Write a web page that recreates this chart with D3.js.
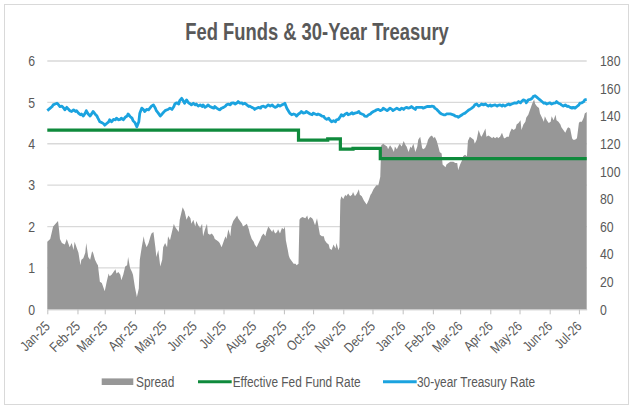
<!DOCTYPE html>
<html>
<head>
<meta charset="utf-8">
<script src="https://cdn.jsdelivr.net/npm/d3@7"></script>
<style>
	body{ margin:0; background:#fff; }
	svg text{ font-family:"Liberation Sans", Arial, sans-serif; fill:#595959; }
</style>
</head>
<body>
<div id="chart"></div>
<script>
// dates are days counted from 1 Jan 2025
const startDate = new Date(2025, 0, 1);
const lastDay = 554;

// spread, bps (right axis)
const spread = [
	[0,49],[3,51],[6,60],[11,64],[12,58],[13,51],[15,48],[18,47],[20,51],[22,47],[23,45],[25,48],[27,43],[28,49],[30,45],
	[32,41],[34,32],[35,36],[37,37],[39,41],[40,48],[42,38],[44,36],[46,42],[47,41],[49,36],[51,33],[52,32],[54,20],[56,19],
	[59,13],[61,20],[63,26],[64,24],[66,25],[68,27],[70,29],[71,26],[73,27],[75,25],[76,21],[78,25],[80,31],[82,32],[83,38],
	[85,30],[87,27],[88,25],[90,16],[92,9],[94,15],[95,36],[97,45],[99,53],[100,49],[102,45],[104,48],[106,53],[107,55],[109,56],
	[111,45],[112,38],[114,43],[116,31],[118,36],[119,45],[121,48],[123,45],[124,53],[126,50],[128,56],[130,62],[131,60],[133,58],
	[135,56],[136,65],[139,74],[141,71],[143,65],[145,68],[147,66],[148,62],[150,65],[152,60],[153,64],[155,61],[157,59],[159,62],
	[160,53],[162,58],[164,62],[165,55],[167,54],[169,55],[171,53],[172,51],[174,50],[176,49],[177,48],[179,45],[181,49],[183,53],
	[184,51],[186,58],[188,53],[189,60],[191,64],[193,66],[195,68],[196,66],[198,64],[200,62],[201,60],[203,61],[205,62],[207,58],
	[208,55],[210,51],[212,49],[213,47],[215,45],[217,48],[219,51],[220,53],[222,55],[224,53],[225,56],[227,60],[229,58],[231,56],
	[232,58],[234,55],[236,56],[237,58],[239,55],[241,59],[243,58],[244,60],[245,50],[247,43],[248,39],[249,37],[251,35],[253,33],
	[255,33],[256,32],[258,33],[259,65],[260,66],[262,67],[265,66],[267,68],[268,65],[270,67],[272,66],[273,65],[275,61],[277,66],
	[278,62],[280,54],[282,53],[284,53],[285,50],[287,48],[289,47],[290,44],[292,43],[294,47],[296,44],[297,48],[299,43],[300,45],
	[301,79],[302,82],[304,80],[306,83],[307,82],[309,84],[311,82],[313,83],[314,85],[316,82],[318,84],[320,87],[321,83],[323,82],
	[325,79],[326,78],[328,76],[330,79],[332,83],[333,84],[335,87],[337,89],[338,90],[340,90],[342,96],[343,119],[345,120],[347,119],
	[349,118],[350,116],[352,119],[354,117],[356,114],[357,118],[359,116],[361,119],[362,120],[364,118],[366,122],[368,119],[369,118],
	[371,114],[373,118],[374,117],[376,120],[378,114],[380,118],[381,123],[383,125],[385,117],[386,116],[388,117],[390,120],[391,123],
	[393,125],[395,126],[397,124],[398,125],[400,122],[402,117],[403,114],[405,113],[406,105],[409,103],[410,105],[412,106],[414,107],
	[417,107],[419,106],[421,106],[422,101],[424,105],[426,108],[427,111],[429,112],[431,111],[432,122],[434,125],[436,124],[438,123],
	[439,120],[441,123],[443,130],[445,126],[446,125],[448,128],[450,131],[451,125],[453,126],[455,125],[457,124],[458,125],[460,124],
	[462,125],[463,124],[465,125],[467,128],[469,124],[470,124],[472,125],[474,125],[475,128],[477,131],[479,130],[481,131],[482,134],
	[484,135],[486,137],[487,130],[489,134],[491,136],[492,139],[494,141],[496,145],[498,149],[500,152],[501,149],[503,147],[505,146],
	[506,142],[508,139],[510,136],[511,140],[513,137],[515,135],[517,136],[518,140],[520,137],[522,141],[523,137],[525,136],[527,134],
	[528,132],[530,130],[532,128],[534,131],[535,132],[537,131],[539,124],[540,123],[542,123],[544,124],[546,135],[547,136],[549,136],
	[551,139],[552,142],[554,143]
];

// effective fed funds rate, % (left axis) - day the level starts
const fedFunds = [[0,4.33],[258,4.09],[288,4.12],[301,3.87],[314,3.89],[342,3.64],[554,3.64]];

// 30-year treasury, % (left axis)
const treasury30 = [
	[0,4.80],[3,4.86],[5,4.90],[6,4.94],[8,4.96],[10,4.98],[11,4.96],[13,4.90],[15,4.91],[17,4.86],[18,4.82],[20,4.88],[22,4.83],
	[23,4.80],[25,4.78],[27,4.82],[29,4.78],[30,4.80],[32,4.74],[34,4.70],[35,4.72],[37,4.67],[39,4.74],[40,4.80],[42,4.72],[44,4.67],
	[46,4.74],[47,4.78],[49,4.72],[51,4.67],[52,4.62],[54,4.53],[56,4.51],[58,4.48],[59,4.45],[61,4.49],[63,4.53],[64,4.58],[66,4.53],
	[68,4.59],[70,4.58],[71,4.62],[73,4.58],[75,4.59],[76,4.62],[78,4.58],[80,4.64],[82,4.67],[83,4.72],[85,4.66],[87,4.62],[88,4.56],
	[90,4.51],[92,4.41],[94,4.53],[95,4.74],[97,4.86],[99,4.82],[100,4.78],[102,4.83],[104,4.82],[106,4.88],[107,4.91],[109,4.94],
	[111,4.86],[112,4.80],[114,4.74],[116,4.67],[118,4.72],[119,4.75],[121,4.80],[123,4.82],[124,4.83],[126,4.86],[128,4.83],[130,4.90],
	[131,4.96],[133,4.99],[135,4.96],[136,5.04],[138,5.10],[140,5.02],[141,4.98],[143,5.06],[145,4.99],[147,4.96],[148,4.94],[150,4.98],
	[152,4.94],[153,4.96],[155,4.91],[157,4.94],[159,4.90],[160,4.94],[162,4.88],[164,4.91],[165,4.94],[167,4.90],[169,4.88],[171,4.86],
	[172,4.90],[174,4.86],[176,4.83],[177,4.82],[179,4.86],[181,4.88],[183,4.91],[184,4.94],[186,4.96],[188,4.94],[189,4.98],[191,4.99],
	[193,4.96],[195,4.99],[196,5.02],[198,4.98],[200,4.99],[201,4.96],[203,4.98],[205,4.94],[207,4.90],[208,4.91],[210,4.88],[212,4.86],
	[213,4.83],[215,4.86],[217,4.88],[219,4.86],[220,4.90],[222,4.91],[224,4.88],[225,4.90],[227,4.94],[229,4.91],[231,4.94],[232,4.91],
	[234,4.88],[236,4.90],[237,4.94],[239,4.91],[241,4.94],[243,4.96],[244,4.98],[246,4.86],[248,4.78],[249,4.74],[251,4.70],[253,4.72],
	[255,4.70],[256,4.67],[258,4.72],[260,4.75],[261,4.78],[263,4.74],[265,4.75],[266,4.78],[268,4.75],[270,4.72],[272,4.70],[273,4.74],
	[275,4.72],[277,4.70],[278,4.72],[280,4.70],[282,4.67],[284,4.66],[285,4.62],[287,4.59],[289,4.62],[290,4.58],[292,4.53],[294,4.56],
	[296,4.53],[297,4.58],[299,4.59],[301,4.66],[302,4.70],[304,4.67],[306,4.72],[308,4.74],[309,4.70],[311,4.72],[313,4.75],[314,4.72],
	[316,4.74],[318,4.75],[320,4.78],[321,4.74],[323,4.72],[325,4.70],[326,4.67],[328,4.66],[330,4.70],[332,4.72],[333,4.75],[335,4.78],
	[337,4.80],[338,4.82],[340,4.83],[342,4.80],[344,4.82],[345,4.86],[347,4.83],[349,4.80],[350,4.82],[352,4.86],[354,4.83],[355,4.80],
	[357,4.83],[359,4.86],[361,4.83],[362,4.82],[364,4.86],[366,4.83],[367,4.86],[369,4.88],[371,4.86],[373,4.88],[374,4.90],[376,4.86],
	[378,4.83],[379,4.88],[381,4.88],[383,4.88],[385,4.88],[386,4.86],[388,4.88],[390,4.90],[391,4.90],[393,4.90],[395,4.91],[397,4.90],
	[398,4.86],[400,4.83],[402,4.78],[403,4.75],[405,4.72],[407,4.70],[409,4.70],[410,4.72],[412,4.72],[414,4.72],[417,4.70],[419,4.67],
	[421,4.66],[422,4.64],[424,4.67],[426,4.70],[427,4.72],[429,4.74],[431,4.78],[433,4.82],[434,4.83],[436,4.86],[438,4.90],[439,4.94],
	[441,4.96],[443,4.91],[445,4.94],[446,4.96],[448,4.94],[450,4.96],[451,4.94],[453,4.91],[455,4.94],[456,4.91],[458,4.93],[460,4.94],
	[462,4.91],[463,4.93],[465,4.94],[467,4.91],[468,4.94],[470,4.91],[472,4.94],[474,4.96],[475,4.94],[477,4.96],[479,4.98],[480,4.99],
	[482,4.98],[484,5.02],[486,4.99],[487,5.02],[489,5.06],[491,5.04],[492,4.99],[494,5.06],[496,5.07],[498,5.10],[499,5.14],[501,5.16],
	[503,5.12],[504,5.10],[506,5.06],[508,5.02],[510,4.98],[511,4.99],[513,4.96],[515,4.98],[516,4.99],[518,4.96],[520,4.98],[522,4.99],
	[523,5.02],[525,4.98],[527,4.96],[528,4.94],[530,4.91],[532,4.94],[534,4.90],[535,4.91],[537,4.88],[539,4.86],[540,4.88],[542,4.86],
	[544,4.90],[546,4.94],[547,4.98],[549,4.99],[551,5.02],[552,5.06],[554,5.07]
];

const leftTicks = [0,1,2,3,4,5,6];
const rightTicks = [0,20,40,60,80,100,120,140,160,180];
const legendItems = ['Spread', 'Effective Fed Fund Rate', '30-year Treasury Rate'];
const chartTitle = 'Fed Funds & 30-Year Treasury';

const colors = {spread:'#979797', fed:'#0f8a3c', tsy:'#1ba3df', grid:'#d9d9d9', text:'#595959'};

// no narrow font installed, so squeeze text horizontally
const squeeze = 0.82;

function toDate(d){ return d3.timeDay.offset(startDate, d); }

function putText(g, tx, ty, str, size, anchor){
	return g.append('text')
		.attr('transform', `translate(${tx},${ty}) scale(${squeeze},1)`)
		.attr('dy', '0.35em')
		.attr('text-anchor', anchor || 'start')
		.style('font-size', size + 'px')
		.text(str);
}

function drawChart(){
	let w = 635, h = 409,
		m = {top:61, right:48.3, bottom:99.7, left:47.3};

	let svg = d3.select('#chart').append('svg').attr('width', w).attr('height', h);

	// outer frame
	svg.append('rect').attr('x', 4.5).attr('y', 4.5).attr('width', 624).attr('height', 400)
		.attr('fill', '#fff').attr('stroke', colors.grid);

	svg.append('text').attr('transform', `translate(317,40) scale(0.8,1)`).attr('text-anchor', 'middle')
		.style('font-size', '23px').style('font-weight', 'bold').text(chartTitle);

	let x = d3.scaleTime().domain([startDate, toDate(lastDay)]).range([m.left, w - m.right]);
	let yL = d3.scaleLinear().domain([0, 6]).range([h - m.bottom, m.top]);
	let yR = d3.scaleLinear().domain([0, 180]).range([h - m.bottom, m.top]);

	// gridlines
	svg.append('g').selectAll('line').data(leftTicks.slice(1)).join('line')
		.attr('x1', m.left).attr('x2', w - m.right)
		.attr('y1', d => yL(d)).attr('y2', d => yL(d))
		.attr('stroke', colors.grid).attr('stroke-width', 1.3);

	// spread area
	let area = d3.area()
		.x(d => x(toDate(d[0])))
		.y0(yR(0))
		.y1(d => yR(d[1]));
	svg.append('path').datum(spread).attr('d', area).attr('fill', colors.spread);

	// fed funds step line
	let fedLine = d3.line().curve(d3.curveStepAfter)
		.x(d => x(toDate(d[0]))).y(d => yL(d[1]));
	svg.append('path').datum(fedFunds).attr('d', fedLine)
		.attr('fill', 'none').attr('stroke', colors.fed).attr('stroke-width', 3.2);

	// 30y treasury line
	let tsyLine = d3.line().x(d => x(toDate(d[0]))).y(d => yL(d[1]));
	svg.append('path').datum(treasury30).attr('d', tsyLine)
		.attr('fill', 'none').attr('stroke', colors.tsy).attr('stroke-width', 2.8)
		.attr('stroke-linejoin', 'round');

	// x axis
	let months = d3.timeMonth.range(startDate, d3.timeDay.offset(toDate(lastDay), 1));
	let xAxis = d3.axisBottom(x).tickValues(months).tickFormat(d3.timeFormat('%b-%y'))
		.tickSize(5).tickSizeOuter(0);
	let gx = svg.append('g').attr('transform', `translate(0,${h - m.bottom})`).call(xAxis);
	gx.select('.domain').attr('stroke', '#bfbfbf');
	gx.selectAll('.tick line').attr('stroke', '#bfbfbf');
	gx.selectAll('.tick text')
		.attr('text-anchor', 'end')
		.attr('y', 0).attr('dy', 0)
		.attr('transform', `translate(3,18) rotate(-45) scale(${squeeze},1)`)
		.style('font-size', '14px');

	// left axis labels
	let gl = svg.append('g');
	leftTicks.forEach(v => putText(gl, 35, yL(v), v, 15, 'end'));

	// right axis labels
	let gr = svg.append('g');
	rightTicks.forEach(v => putText(gr, 600, yR(v), v, 15, 'start'));

	// legend
	let ly = 381.7;
	let lg = svg.append('g');
	lg.append('rect').attr('x', 101.7).attr('y', ly - 3.3).attr('width', 31.6).attr('height', 6.6)
		.attr('fill', colors.spread);
	lg.append('line').attr('x1', 198).attr('x2', 231.7).attr('y1', ly).attr('y2', ly)
		.attr('stroke', colors.fed).attr('stroke-width', 3);
	lg.append('line').attr('x1', 383).attr('x2', 416.7).attr('y1', ly).attr('y2', ly)
		.attr('stroke', colors.tsy).attr('stroke-width', 3);
	[136, 232.7, 417].forEach(function(lx, li){
		putText(lg, lx, ly, legendItems[li], 14.5, 'start');
	});
}

drawChart();
</script>
</body>
</html>
